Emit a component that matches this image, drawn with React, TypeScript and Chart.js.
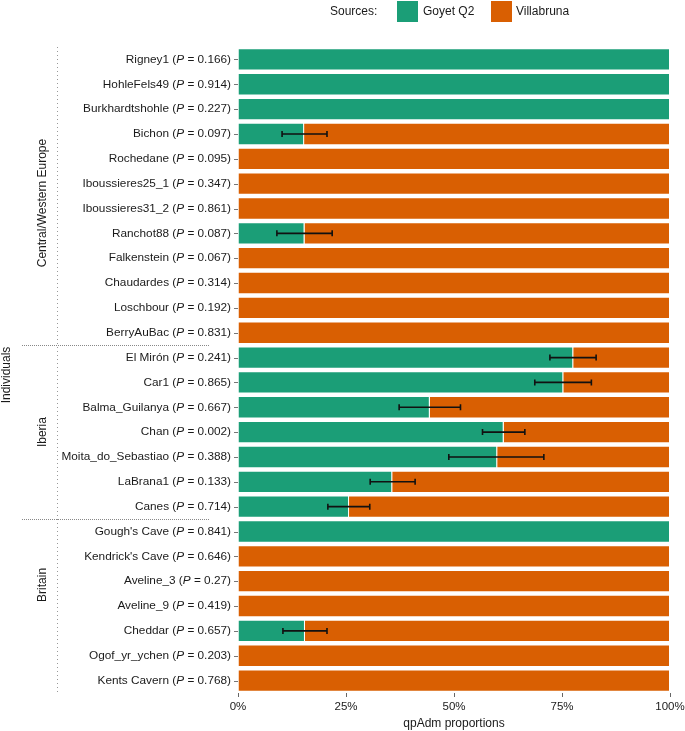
import React, { useEffect, useRef } from "react";
import { Chart, registerables } from "chart.js";

Chart.register(...registerables);

const individuals = [
  "Rigney1", "HohleFels49", "Burkhardtshohle", "Bichon", "Rochedane", "Iboussieres25_1",
  "Iboussieres31_2", "Ranchot88", "Falkenstein", "Chaudardes", "Loschbour", "BerryAuBac",
  "El Mirón", "Car1", "Balma_Guilanya", "Chan", "Moita_do_Sebastiao", "LaBrana1", "Canes",
  "Gough's Cave", "Kendrick's Cave", "Aveline_3", "Aveline_9", "Cheddar", "Ogof_yr_ychen", "Kents Cavern",
];
const pValues = [
  "0.166", "0.914", "0.227", "0.097", "0.095", "0.347",
  "0.861", "0.087", "0.067", "0.314", "0.192", "0.831",
  "0.241", "0.865", "0.667", "0.002", "0.388", "0.133", "0.714",
  "0.841", "0.646", "0.27", "0.419", "0.657", "0.203", "0.768",
];
const goyetQ2 = [
  100, 100, 100, 15.3, 0, 0,
  0, 15.4, 0, 0, 0, 0,
  77.6, 75.3, 44.4, 61.5, 60.0, 35.7, 25.7,
  100, 0, 0, 0, 15.5, 0, 0,
];
const villabruna = goyetQ2.map((g) => 100 - g);
// standard-error bar bounds (percent), null where no bar
const errLow = [
  null, null, null, 10.2, null, null,
  null, 9.0, null, null, null, null,
  72.2, 68.7, 37.3, 56.6, 48.8, 30.6, 20.8,
  null, null, null, null, 10.4, null, null,
];
const errHigh = [
  null, null, null, 20.6, null, null,
  null, 21.8, null, null, null, null,
  82.9, 81.8, 51.5, 66.4, 70.8, 41.0, 30.5,
  null, null, null, null, 20.6, null, null,
];
const regionNames = ["Central/Western Europe", "Iberia", "Britain"];
const regionCenters = [5.78, 15.0, 21.15];
const regionBoundaries = [11.5, 18.5];
const xTicks = [0, 25, 50, 75, 100];

const GREEN = "#1b9e77";
const ORANGE = "#d95f02";
const FONT = "'Liberation Sans', Arial, Helvetica, sans-serif";

const overlayPlugin = {
  id: "overlay",
  afterDatasetsDraw(chart: any) {
    const ctx = chart.ctx;
    const x = chart.scales.x;
    const y = chart.scales.y;
    ctx.save();
    // error bars
    ctx.strokeStyle = "#111";
    ctx.lineWidth = 1.6;
    for (let i = 0; i < individuals.length; i++) {
      const lo = errLow[i];
      const hi = errHigh[i];
      if (lo == null || hi == null) continue;
      const yc = y.getPixelForValue(i);
      const x1 = x.getPixelForValue(lo);
      const x2 = x.getPixelForValue(hi);
      ctx.beginPath();
      ctx.moveTo(x1, yc);
      ctx.lineTo(x2, yc);
      ctx.moveTo(x1, yc - 3);
      ctx.lineTo(x1, yc + 3);
      ctx.moveTo(x2, yc - 3);
      ctx.lineTo(x2, yc + 3);
      ctx.stroke();
    }
    ctx.restore();
  },
  afterDraw(chart: any) {
    const ctx = chart.ctx;
    const y = chart.scales.y;
    const area = chart.chartArea;
    ctx.save();
    // y tick marks and labels
    ctx.textBaseline = "middle";
    for (let i = 0; i < individuals.length; i++) {
      const yc = y.getPixelForValue(i);
      ctx.strokeStyle = "#777";
      ctx.lineWidth = 1;
      ctx.beginPath();
      ctx.moveTo(area.left - 4, Math.round(yc) + 0.5);
      ctx.lineTo(area.left, Math.round(yc) + 0.5);
      ctx.stroke();
      const normal = `11.8px ${FONT}`;
      const italic = `italic 11.8px ${FONT}`;
      const p1 = `${individuals[i]} (`;
      const p2 = "P";
      const p3 = ` = ${pValues[i]})`;
      ctx.font = normal;
      const w1 = ctx.measureText(p1).width;
      const w3 = ctx.measureText(p3).width;
      ctx.font = italic;
      const w2 = ctx.measureText(p2).width;
      let xs = area.left - 7 - (w1 + w2 + w3);
      ctx.fillStyle = "#1a1a1a";
      ctx.textAlign = "left";
      ctx.font = normal;
      ctx.fillText(p1, xs, yc);
      xs += w1;
      ctx.font = italic;
      ctx.fillText(p2, xs, yc);
      xs += w2;
      ctx.font = normal;
      ctx.fillText(p3, xs, yc);
    }
    // dotted vertical line
    ctx.strokeStyle = "#999";
    ctx.lineWidth = 1;
    ctx.setLineDash([1, 3]);
    ctx.beginPath();
    ctx.moveTo(57.5, area.top);
    ctx.lineTo(57.5, area.bottom);
    ctx.stroke();
    // dotted separators
    ctx.strokeStyle = "#888";
    ctx.setLineDash([1, 1]);
    for (const b of regionBoundaries) {
      const yb = Math.round(y.getPixelForValue(b)) + 0.5;
      ctx.beginPath();
      ctx.moveTo(22, yb);
      ctx.lineTo(210, yb);
      ctx.stroke();
    }
    ctx.setLineDash([]);
    // region labels
    ctx.fillStyle = "#1a1a1a";
    ctx.font = `12px ${FONT}`;
    ctx.textAlign = "center";
    ctx.textBaseline = "middle";
    for (let r = 0; r < regionNames.length; r++) {
      const yc = y.getPixelForValue(regionCenters[r]);
      ctx.save();
      ctx.translate(43, yc);
      ctx.rotate(-Math.PI / 2);
      ctx.fillText(regionNames[r], 0, 0);
      ctx.restore();
    }
    ctx.save();
    ctx.translate(7, 375);
    ctx.rotate(-Math.PI / 2);
    ctx.fillText("Individuals", 0, 0);
    ctx.restore();
    // legend
    ctx.font = `12px ${FONT}`;
    ctx.textAlign = "left";
    ctx.textBaseline = "middle";
    ctx.fillStyle = "#1a1a1a";
    ctx.fillText("Sources:", 330, 11.5);
    ctx.fillStyle = GREEN;
    ctx.fillRect(397, 1, 21, 21);
    ctx.fillStyle = "#1a1a1a";
    ctx.fillText("Goyet Q2", 423, 11.5);
    ctx.fillStyle = ORANGE;
    ctx.fillRect(491, 1, 21, 21);
    ctx.fillStyle = "#1a1a1a";
    ctx.fillText("Villabruna", 516, 11.5);
    ctx.restore();
  },
};

export default function App() {
  const ref = useRef<HTMLCanvasElement | null>(null);
  useEffect(() => {
    if (!ref.current) return;
    const chart = new Chart(ref.current, {
      type: "bar",
      data: {
        labels: individuals,
        datasets: [
          {
            label: "Goyet Q2",
            data: goyetQ2,
            backgroundColor: GREEN,
            borderColor: "rgba(255,255,255,0.45)",
            borderWidth: 1,
            barPercentage: 0.9,
            categoryPercentage: 1,
          },
          {
            label: "Villabruna",
            data: villabruna,
            backgroundColor: ORANGE,
            borderColor: "rgba(255,255,255,0.45)",
            borderWidth: 1,
            barPercentage: 0.9,
            categoryPercentage: 1,
          },
        ],
      },
      options: {
        indexAxis: "y",
        animation: false,
        responsive: false,
        maintainAspectRatio: false,
        layout: { padding: { left: 238, right: 15, top: 47, bottom: 0 } },
        plugins: { legend: { display: false }, tooltip: { enabled: false } },
        scales: {
          x: {
            stacked: true,
            min: 0,
            max: 100,
            afterBuildTicks: (s: any) => {
              s.ticks = xTicks.map((v) => ({ value: v }));
            },
            afterFit: (s: any) => {
              s.height = 38;
              s.paddingLeft = 0;
              s.paddingRight = 0;
            },
            border: { display: false },
            grid: { drawOnChartArea: false, drawTicks: true, tickLength: 4, color: "#666" },
            ticks: {
              callback: (v: any) => `${v}%`,
              color: "#1a1a1a",
              font: { family: FONT, size: 11.5 },
              padding: 3,
              maxRotation: 0,
            },
            title: {
              display: true,
              text: "qpAdm proportions",
              color: "#1a1a1a",
              font: { family: FONT, size: 12 },
              padding: { top: 1, bottom: 0 },
            },
          },
          y: {
            stacked: true,
            display: false,
          },
        },
      },
      plugins: [overlayPlugin],
    });
    return () => chart.destroy();
  }, []);
  return (
    <div style={{ position: "fixed", left: 0, top: 0, width: 685, height: 731, background: "#fff" }}>
      <canvas ref={ref} width={685} height={731} style={{ width: 685, height: 731 }} />
    </div>
  );
}
